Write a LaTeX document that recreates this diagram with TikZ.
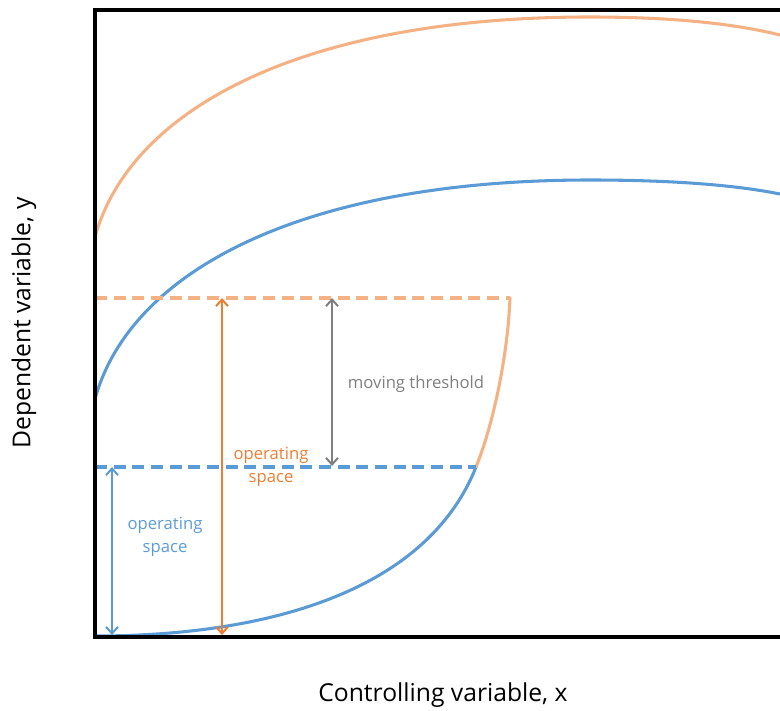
\documentclass[tikz,border=0pt]{standalone}
\usepackage{fontspec}
\setmainfont{Open Sans}
\usetikzlibrary{arrows.meta}
\definecolor{cblue}{HTML}{5B9BD5}
\definecolor{corange}{HTML}{F4B183}
\definecolor{cdark}{HTML}{ED7D31}
\definecolor{cgray}{HTML}{7F7F7F}
\tikzset{
  curve/.style={line width=2.3pt, line cap=round},
  level/.style={line width=2.3pt, dash pattern=on 9pt off 5pt},
  span/.style={line width=1.5pt, {Straight Barb[length=5pt,width=9pt]}-{Straight Barb[length=5pt,width=9pt]}},
  tag/.style={font=\fontsize{12.5}{17.5}\selectfont, align=center, inner sep=0pt},
  axislabel/.style={font=\fontsize{18.5}{22}\selectfont, inner sep=0pt}
}
\begin{document}
\begin{tikzpicture}[x=0.75pt, y=-0.75pt]
\useasboundingbox (0,0) rectangle (780,710);
% reference levels
\coordinate (tHi) at (95,298);
\coordinate (tHiEnd) at (510,298);
\coordinate (tLo) at (95,467);
\coordinate (tLoEnd) at (476,467);
\coordinate (origin) at (95,636);
% upper response curves
\draw[curve, corange] (95,237) .. controls (130,110) and (300,17) .. (590,17)
  .. controls (680,17) and (740,25) .. (780,35);
\draw[curve, cblue] (95,399) .. controls (130,272) and (300,180) .. (590,180)
  .. controls (680,180) and (740,186) .. (780,194);
% lower response curves
\draw[curve, cblue] (origin) .. controls (260,636) and (425,595) .. (tLoEnd);
\draw[curve, corange] (tLoEnd) .. controls (495,420) and (508,350) .. (tHiEnd);
% thresholds
\draw[level, corange] (tHi) -- (tHiEnd);
\draw[level, cblue] (tLo) -- (tLoEnd);
% spans
\coordinate (bTop) at (112,467);
\coordinate (bBot) at (112,635);
\coordinate (oTop) at (222,298);
\coordinate (oBot) at (222,635);
\coordinate (gTop) at (332,298);
\coordinate (gBot) at (332,466);
\draw[span, cblue] (bTop) -- (bBot);
\draw[span, cdark] (oTop) -- (oBot);
\draw[span, cgray] (gTop) -- (gBot);
% frame
\draw[line width=2.5pt] (780,10) -- (95,10) -- (95,637) -- (780,637);
% labels
\node[tag, text=cgray] (lMove) at (416,384) {moving threshold};
\node[tag, text=cdark] (lOrange) at (271,467) {operating\\space};
\node[tag, text=cblue] (lBlue) at (165,537) {operating\\space};
\node[axislabel] (xlab) at (443,695) {Controlling variable, x};
\node[axislabel, rotate=90] (ylab) at (24,323) {Dependent variable, y};
\end{tikzpicture}
\end{document}
